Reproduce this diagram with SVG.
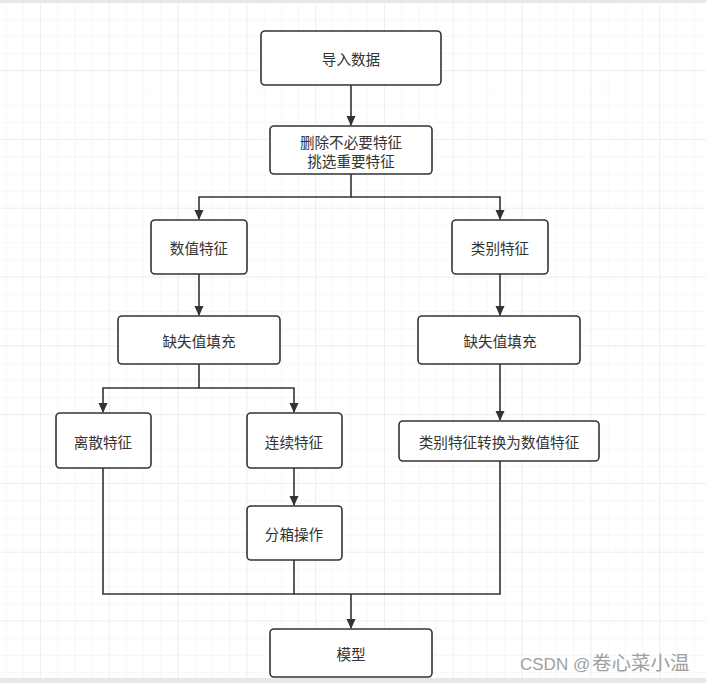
<svg xmlns="http://www.w3.org/2000/svg" width="706" height="683" viewBox="0 0 706 683">
<style>
.node rect{fill:#fff;stroke:#333;stroke-width:1.6}
.node text{font-family:"Microsoft YaHei","Noto Sans CJK SC",sans-serif;font-size:14.6px;fill:#333;text-anchor:middle;dominant-baseline:central}
.edge{fill:none;stroke:#333;stroke-width:1.6}
</style>
<defs>
<pattern id="minor" x="5.6" y="1.6" width="17.2" height="17.2" patternUnits="userSpaceOnUse">
<path d="M0 0V17.2M0 0H17.2" fill="none" stroke="#f0f0f0" stroke-width="1"/>
</pattern>
<pattern id="major" x="40" y="1.2" width="68.8" height="68.8" patternUnits="userSpaceOnUse">
<path d="M0 0V68.8M0 0H68.8" fill="none" stroke="#e6e6e6" stroke-width="1"/>
</pattern>
<marker id="arr" markerWidth="10" markerHeight="10" refX="9" refY="5" orient="auto" markerUnits="userSpaceOnUse">
<path d="M0 0.5L10 5L0 9.5Z" fill="#333"/>
</marker>
</defs>
<rect width="706" height="683" fill="#fff"/>
<rect width="706" height="683" fill="url(#minor)"/>
<rect width="706" height="683" fill="url(#major)"/>
<rect x="0" y="0" width="706" height="3" fill="#e6e7eb"/>
<rect x="0" y="678" width="706" height="5" fill="#e6e7eb"/>

<g id="connectors">
<path class="edge" d="M351 85V125" marker-end="url(#arr)"/>
<path class="edge" d="M351 174V197H199V219" marker-end="url(#arr)"/>
<path class="edge" d="M351 197H500V219" marker-end="url(#arr)"/>
<path class="edge" d="M199 274V315" marker-end="url(#arr)"/>
<path class="edge" d="M500 274V315" marker-end="url(#arr)"/>
<path class="edge" d="M199 364V388H103V412" marker-end="url(#arr)"/>
<path class="edge" d="M199 388H294V412" marker-end="url(#arr)"/>
<path class="edge" d="M500 364V420" marker-end="url(#arr)"/>
<path class="edge" d="M294 468V505" marker-end="url(#arr)"/>
<path class="edge" d="M103 468V594H500V461"/>
<path class="edge" d="M294 560V594"/>
<path class="edge" d="M351 594V628" marker-end="url(#arr)"/>
</g>

<g id="n1" class="node"><rect x="261" y="31" width="180" height="54" rx="4"/><text x="351" y="58">导入数据</text></g>
<g id="n2" class="node"><rect x="270" y="126" width="162" height="48" rx="4"/><text x="351" y="141">删除不必要特征</text><text x="351" y="160">挑选重要特征</text></g>
<g id="n3" class="node"><rect x="151" y="220" width="96" height="54" rx="4"/><text x="199" y="247">数值特征</text></g>
<g id="n4" class="node"><rect x="452" y="220" width="96" height="54" rx="4"/><text x="500" y="247">类别特征</text></g>
<g id="n5" class="node"><rect x="118" y="316" width="162" height="48" rx="4"/><text x="199" y="340">缺失值填充</text></g>
<g id="n6" class="node"><rect x="418" y="316" width="162" height="48" rx="4"/><text x="500" y="340">缺失值填充</text></g>
<g id="n7" class="node"><rect x="56" y="413" width="95" height="55" rx="4"/><text x="103" y="441">离散特征</text></g>
<g id="n8" class="node"><rect x="247" y="413" width="95" height="55" rx="4"/><text x="294" y="441">连续特征</text></g>
<g id="n9" class="node"><rect x="399" y="421" width="200" height="40" rx="4"/><text x="499" y="441">类别特征转换为数值特征</text></g>
<g id="n10" class="node"><rect x="247" y="506" width="95" height="54" rx="4"/><text x="294" y="533">分箱操作</text></g>
<g id="n11" class="node"><rect x="270" y="629" width="162" height="48" rx="4"/><text x="351" y="653">模型</text></g>

<text x="520" y="670" font-family="'Liberation Sans','Noto Sans CJK SC',sans-serif" font-size="17" fill="#a0a0a0">CSDN @<tspan x="592" font-family="'Noto Sans CJK SC',sans-serif" font-size="19.5">卷心菜小温</tspan></text>
</svg>
